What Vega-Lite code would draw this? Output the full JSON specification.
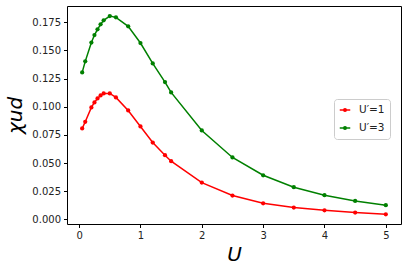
{
  "$schema": "https://vega.github.io/schema/vega-lite/v6.json",
  "width": 334,
  "height": 218,
  "autosize": {"type": "none"},
  "padding": {"left": 67, "top": 6, "right": 6, "bottom": 47},
  "background": "white",
  "config": {
    "view": {"stroke": "black", "strokeWidth": 1},
    "axis": {
      "grid": false,
      "domain": false,
      "tickColor": "black",
      "tickSize": 3.5,
      "labelFont": "DejaVu Sans",
      "labelFontSize": 10,
      "labelColor": "#222222",
      "labelPadding": 3,
      "titleFont": "DejaVu Sans",
      "titleFontSize": 20,
      "titleFontWeight": "normal",
      "titleFontStyle": "italic",
      "titleColor": "black"
    },
    "legend": {
      "labelFont": "DejaVu Sans",
      "labelFontSize": 10.5,
      "labelColor": "#222222",
      "strokeColor": "#cccccc",
      "fillColor": "white",
      "cornerRadius": 3,
      "padding": 5,
      "rowPadding": 6,
      "labelOffset": 8
    }
  },
  "data": {
    "values": [
      {"U": 0.05, "chi": 0.0807, "s": "U′=1"},
      {"U": 0.1, "chi": 0.0866, "s": "U′=1"},
      {"U": 0.2, "chi": 0.0994, "s": "U′=1"},
      {"U": 0.25, "chi": 0.1038, "s": "U′=1"},
      {"U": 0.3, "chi": 0.1074, "s": "U′=1"},
      {"U": 0.35, "chi": 0.1100, "s": "U′=1"},
      {"U": 0.4, "chi": 0.1118, "s": "U′=1"},
      {"U": 0.5, "chi": 0.1118, "s": "U′=1"},
      {"U": 0.6, "chi": 0.1083, "s": "U′=1"},
      {"U": 0.8, "chi": 0.0967, "s": "U′=1"},
      {"U": 1.0, "chi": 0.0825, "s": "U′=1"},
      {"U": 1.2, "chi": 0.0682, "s": "U′=1"},
      {"U": 1.4, "chi": 0.0569, "s": "U′=1"},
      {"U": 1.5, "chi": 0.0516, "s": "U′=1"},
      {"U": 2.0, "chi": 0.0326, "s": "U′=1"},
      {"U": 2.5, "chi": 0.0211, "s": "U′=1"},
      {"U": 3.0, "chi": 0.0142, "s": "U′=1"},
      {"U": 3.5, "chi": 0.0104, "s": "U′=1"},
      {"U": 4.0, "chi": 0.0080, "s": "U′=1"},
      {"U": 4.5, "chi": 0.0060, "s": "U′=1"},
      {"U": 5.0, "chi": 0.0044, "s": "U′=1"},
      {"U": 0.05, "chi": 0.1305, "s": "U′=3"},
      {"U": 0.1, "chi": 0.1403, "s": "U′=3"},
      {"U": 0.2, "chi": 0.1570, "s": "U′=3"},
      {"U": 0.25, "chi": 0.1637, "s": "U′=3"},
      {"U": 0.3, "chi": 0.1688, "s": "U′=3"},
      {"U": 0.35, "chi": 0.1732, "s": "U′=3"},
      {"U": 0.4, "chi": 0.1768, "s": "U′=3"},
      {"U": 0.5, "chi": 0.1806, "s": "U′=3"},
      {"U": 0.6, "chi": 0.1794, "s": "U′=3"},
      {"U": 0.8, "chi": 0.1714, "s": "U′=3"},
      {"U": 1.0, "chi": 0.1566, "s": "U′=3"},
      {"U": 1.2, "chi": 0.1385, "s": "U′=3"},
      {"U": 1.4, "chi": 0.1219, "s": "U′=3"},
      {"U": 1.5, "chi": 0.1127, "s": "U′=3"},
      {"U": 2.0, "chi": 0.0789, "s": "U′=3"},
      {"U": 2.5, "chi": 0.0549, "s": "U′=3"},
      {"U": 3.0, "chi": 0.0391, "s": "U′=3"},
      {"U": 3.5, "chi": 0.0285, "s": "U′=3"},
      {"U": 4.0, "chi": 0.0214, "s": "U′=3"},
      {"U": 4.5, "chi": 0.0163, "s": "U′=3"},
      {"U": 5.0, "chi": 0.0125, "s": "U′=3"}
    ]
  },
  "mark": {"type": "line", "strokeWidth": 1.5, "point": {"filled": true, "size": 18, "opacity": 1}},
  "encoding": {
    "x": {
      "field": "U", "type": "quantitative",
      "scale": {"domain": [-0.1975, 5.2475], "nice": false, "zero": false},
      "axis": {"values": [0, 1, 2, 3, 4, 5], "format": "d", "title": "U", "titlePadding": 4}
    },
    "y": {
      "field": "chi", "type": "quantitative",
      "scale": {"domain": [-0.0042, 0.1895], "nice": false, "zero": false},
      "axis": {"values": [0, 0.025, 0.05, 0.075, 0.1, 0.125, 0.15, 0.175], "format": ".3f", "title": "χud", "titlePadding": 6}
    },
    "color": {
      "field": "s", "type": "nominal",
      "scale": {"domain": ["U′=1", "U′=3"], "range": ["#ff0000", "#008000"]},
      "legend": {
        "title": null,
        "orient": "none",
        "legendX": 267,
        "legendY": 93,
        "symbolType": "M -1 0 L 1 0 M 0.25 0 A 0.25 0.25 0 1 1 -0.25 0 A 0.25 0.25 0 1 1 0.25 0",
        "symbolSize": 110,
        "symbolStrokeWidth": 1.5,
        "symbolOpacity": 1
      }
    }
  }
}
